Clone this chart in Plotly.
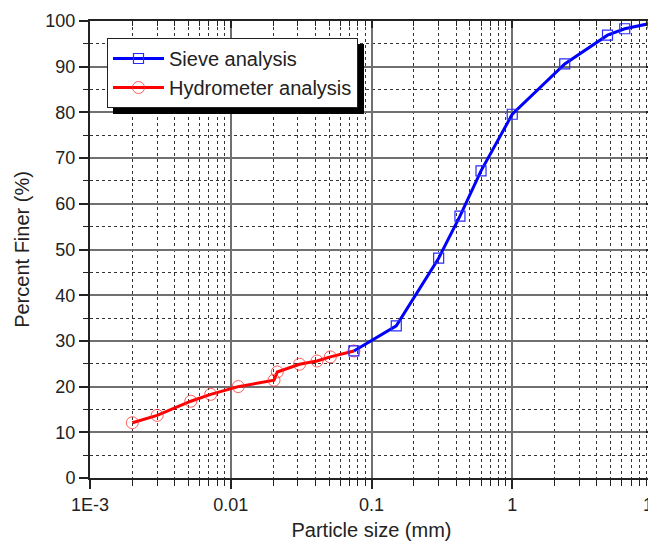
import plotly.graph_objects as go

# Data
sieve_size = [0.075, 0.15, 0.3, 0.425, 0.6, 1.0, 2.36, 4.75, 6.3, 10.0]
sieve_finer = [27.8, 33.3, 48.1, 57.3, 67.2, 79.6, 90.6, 96.9, 98.3, 99.6]

hydro_size = [0.002, 0.003, 0.0052, 0.0072, 0.0113, 0.0203, 0.0214, 0.0308, 0.041, 0.051, 0.075]
hydro_finer = [12.1, 13.7, 16.8, 18.3, 20.0, 21.4, 23.2, 24.9, 25.6, 26.5, 27.8]

x_tickvals = [0.001, 0.01, 0.1, 1, 10]
x_ticktext = ["1E-3", "0.01", "0.1", "1", "10"]
y_tickvals = list(range(0, 101, 10))

FONT = "Liberation Sans, Arial, sans-serif"
TXT = "#222222"

# The page body has an 8px margin, so the figure is drawn 8px in from the
# window's top-left corner; size and left/top margins compensate.
OFF = 8
W, H = 656 - OFF, 541 - OFF
L, R, T, B = 90 - OFF, 3, 21 - OFF, 63
PW, PH = W - L - R, H - T - B


def px_x(p):  # window pixel -> paper x
    return (p - OFF - L) / PW


def px_y(p):  # window pixel -> paper y
    return (H - B - (p - OFF)) / PH


fig = go.Figure()

fig.add_trace(go.Scatter(
    x=hydro_size, y=hydro_finer, mode="lines+markers", name="Hydrometer analysis",
    line=dict(color="#ff0000", width=3),
    marker=dict(symbol="circle-open", size=12, color="rgba(255,40,40,0.75)", line=dict(width=1)),
))
fig.add_trace(go.Scatter(
    x=sieve_size, y=sieve_finer, mode="lines+markers", name="Sieve analysis",
    line=dict(color="#0000ff", width=3),
    marker=dict(symbol="square-open", size=10, color="#2a2aff", line=dict(width=1.2)),
))
# empty traces to hold the mirrored (top/right) tick axes
fig.add_trace(go.Scatter(x=[], y=[], xaxis="x2", yaxis="y", showlegend=False, hoverinfo="skip"))
fig.add_trace(go.Scatter(x=[], y=[], xaxis="x", yaxis="y2", showlegend=False, hoverinfo="skip"))

minor_grid = dict(showgrid=True, griddash="dot", gridcolor="#333333", gridwidth=1)

fig.update_layout(
    width=W, height=H,
    margin=dict(l=L, r=R, t=T, b=B, autoexpand=False),
    paper_bgcolor="white", plot_bgcolor="white",
    font=dict(family=FONT, color=TXT, size=18),
    showlegend=True,
    legend=dict(
        x=px_x(107), y=px_y(38), xanchor="left", yanchor="top",
        bgcolor="white", bordercolor="#222", borderwidth=1,
        font=dict(family=FONT, size=20, color=TXT),
        traceorder="reversed", tracegroupgap=0,
        itemwidth=51,
    ),
    xaxis=dict(
        type="log", range=[-3, 1], automargin=False,
        tickmode="array", tickvals=x_tickvals, ticktext=x_ticktext,
        ticklabeloverflow="allow",
        ticks="outside", ticklen=9, tickwidth=1.5, tickcolor="#222",
        showline=True, linecolor="#222", linewidth=2,
        showgrid=True, gridcolor="#707070", gridwidth=1.6,
        zeroline=False,
        tickfont=dict(size=18),
        title=dict(text="Particle size (mm)", font=dict(size=20), standoff=10),
        minor=dict(dtick="D1", ticks="outside", ticklen=6, tickwidth=1.3, tickcolor="#222",
                   **minor_grid),
    ),
    yaxis=dict(
        range=[0, 100], automargin=False,
        tickmode="array", tickvals=y_tickvals,
        ticklabeloverflow="allow",
        ticks="outside", ticklen=9, tickwidth=1.5, tickcolor="#222",
        showline=True, linecolor="#222", linewidth=2,
        showgrid=True, gridcolor="#707070", gridwidth=1.6,
        zeroline=False,
        tickfont=dict(size=18),
        title=dict(text="Percent Finer (%)", font=dict(size=20), standoff=10),
        minor=dict(dtick=5, ticks="outside", ticklen=5, tickwidth=1.3, tickcolor="#222",
                   **minor_grid),
    ),
    xaxis2=dict(
        type="log", range=[-3, 1], overlaying="x", side="top", anchor="y", automargin=False,
        tickmode="array", tickvals=x_tickvals, showticklabels=False,
        ticks="inside", ticklen=7, tickwidth=1.5, tickcolor="#222",
        showline=True, linecolor="#222", linewidth=2,
        showgrid=False, zeroline=False,
        minor=dict(dtick="D1", ticks="inside", ticklen=5, tickwidth=1.3, tickcolor="#222", showgrid=False),
    ),
    yaxis2=dict(
        range=[0, 100], overlaying="y", side="right", anchor="x", automargin=False,
        tickmode="array", tickvals=y_tickvals, showticklabels=False,
        ticks="inside", ticklen=7, tickwidth=1.5, tickcolor="#222",
        showline=True, linecolor="#222", linewidth=2,
        showgrid=False, zeroline=False,
        minor=dict(dtick=5, ticks="inside", ticklen=5, tickwidth=1.3, tickcolor="#222", showgrid=False),
    ),
)

# legend drop shadow (sits under the legend box, offset down/right)
fig.add_shape(
    type="rect", xref="paper", yref="paper", layer="above",
    x0=px_x(113), x1=px_x(364),
    y0=px_y(114), y1=px_y(44),
    fillcolor="black", line=dict(width=0),
)

fig.write_html("out.html")
